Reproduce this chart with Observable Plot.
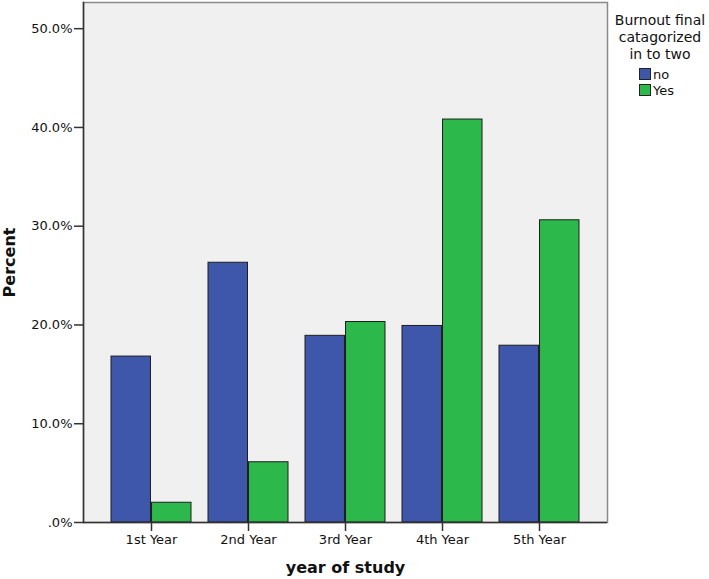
<!DOCTYPE html>
<html>
<head>
<meta charset="utf-8">
<script src="https://cdn.jsdelivr.net/npm/d3@7"></script>
<script src="https://cdn.jsdelivr.net/npm/@observablehq/plot@0.6"></script>
<style>
  html, body { margin: 0; padding: 0; background: #fff; }
  #wrap { position: relative; width: 709px; height: 579px; font-family: "DejaVu Sans", sans-serif; }
  #legend { position: absolute; left: 610px; top: 0; width: 100px; color: #111; }
  #legend .title { text-align: center; font-size: 14px; line-height: 17px; padding-top: 12px; }
  #legend .items { margin-left: 29px; margin-top: 3px; font-size: 13px; }
  #legend .item { display: flex; align-items: center; height: 16px; }
  #legend .sw { width: 10px; height: 10px; border: 1px solid #222; margin-right: 2px; }
</style>
</head>
<body>
<div id="wrap"></div>
<script>
const years = ["1st Year", "2nd Year", "3rd Year", "4th Year", "5th Year"];
const noValues = [16.8, 26.3, 18.9, 19.9, 17.9];
const yesValues = [2.0, 6.1, 20.3, 40.8, 30.6];
const groups = ["no", "Yes"];
const groupColors = ["#3e57ab", "#2db84b"];
const yTicks = [0, 10, 20, 30, 40, 50];
const yTickLabels = [".0%", "10.0%", "20.0%", "30.0%", "40.0%", "50.0%"];
const xTitle = "year of study";
const yTitle = "Percent";
const legendTitleLines = ["Burnout final", "catagorized", "in to two"];

const table = years.flatMap((yr, i) => [
  {year: yr, group: groups[0], value: noValues[i]},
  {year: yr, group: groups[1], value: yesValues[i]}
]);

const W = 709, H = 579;
const mL = 83, mR = 102, mT = 2, mB = 57;
const pInner = 0.173, pOuter = 0.26;
const step = (W - mL - mR) / (years.length - pInner + 2 * pOuter);
const half = step * (1 - pInner) / 2;

const chart = Plot.plot({
  width: W,
  height: H,
  marginLeft: mL,
  marginRight: mR,
  marginTop: mT,
  marginBottom: mB,
  style: {fontFamily: "DejaVu Sans, sans-serif", fontSize: "13px", color: "#111", background: "transparent"},
  x: {domain: years, paddingInner: pInner, paddingOuter: pOuter, label: null},
  y: {domain: [0, 52.65], label: null},
  color: {domain: groups, range: groupColors},
  marks: [
    Plot.frame({fill: "#f0f0f0", stroke: "#8a8a8a", strokeWidth: 1.5}),
    Plot.barY(table.filter(d => d.group === groups[0]), {x: "year", y: "value", fill: "group", stroke: "#1e1e1e", strokeWidth: 1, insetLeft: 0, insetRight: half}),
    Plot.barY(table.filter(d => d.group === groups[1]), {x: "year", y: "value", fill: "group", stroke: "#1e1e1e", strokeWidth: 1, insetLeft: half, insetRight: 0}),
    Plot.ruleY([0], {stroke: "#333", strokeWidth: 1.5}),
    Plot.frame({anchor: "left", stroke: "#333", strokeWidth: 1.5}),
    Plot.axisY({ticks: yTicks, tickFormat: d => yTickLabels[yTicks.indexOf(d)], tickSize: 9, tickPadding: 2, stroke: "#333", strokeWidth: 1.5, fontSize: 13, label: null}),
    Plot.axisX({tickSize: 9, tickPadding: 3, stroke: "#333", strokeWidth: 1.5, fontSize: 13, label: null}),
    Plot.text([xTitle], {frameAnchor: "bottom", text: d => d, dy: 45, lineAnchor: "middle", fontWeight: "bold", fontSize: 16, fill: "#111"}),
    Plot.text([yTitle], {frameAnchor: "left", text: d => d, dx: -74, rotate: -90, lineAnchor: "middle", textAnchor: "middle", fontWeight: "bold", fontSize: 16, fill: "#111"})
  ]
});

const wrap = document.getElementById("wrap");
wrap.appendChild(chart);

const legend = document.createElement("div");
legend.id = "legend";
const title = document.createElement("div");
title.className = "title";
legendTitleLines.forEach(line => {
  const l = document.createElement("div");
  l.textContent = line;
  title.appendChild(l);
});
legend.appendChild(title);
const items = document.createElement("div");
items.className = "items";
groups.forEach((g, i) => {
  const it = document.createElement("div");
  it.className = "item";
  const sw = document.createElement("span");
  sw.className = "sw";
  sw.style.background = groupColors[i];
  const tx = document.createElement("span");
  tx.textContent = g;
  it.appendChild(sw);
  it.appendChild(tx);
  items.appendChild(it);
});
legend.appendChild(items);
wrap.appendChild(legend);
</script>
</body>
</html>
